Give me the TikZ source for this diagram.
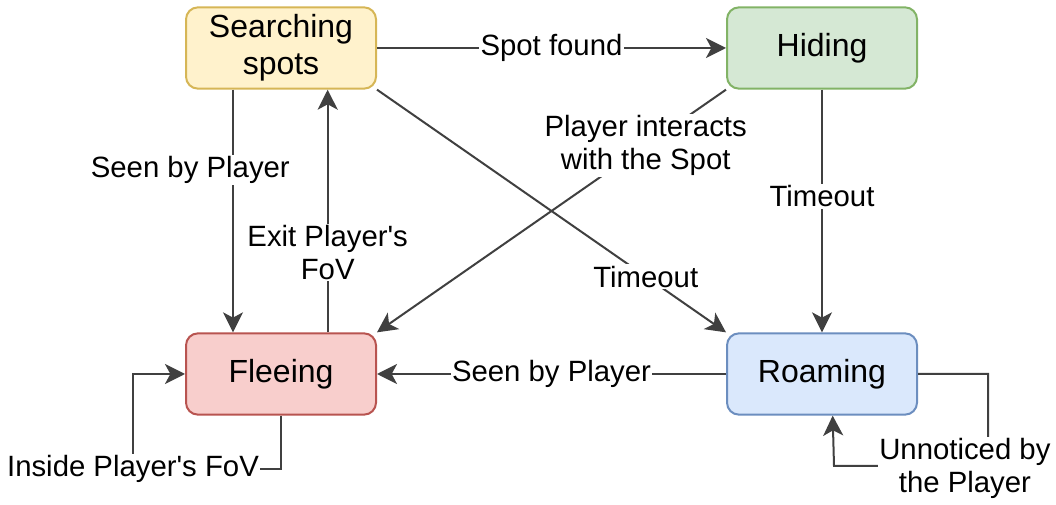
\documentclass[tikz,border=0pt]{standalone}
\usepackage{fontspec}
\setmainfont{Liberation Sans}
\usetikzlibrary{arrows.meta}
\definecolor{edgegray}{HTML}{404040}
\definecolor{srchfill}{HTML}{FFF2CC}
\definecolor{srchline}{HTML}{D6B656}
\definecolor{hidefill}{HTML}{D5E8D4}
\definecolor{hideline}{HTML}{82B366}
\definecolor{fleefill}{HTML}{F8CECC}
\definecolor{fleeline}{HTML}{B85450}
\definecolor{roamfill}{HTML}{DAE8FC}
\definecolor{roamline}{HTML}{6C8EBF}

\begin{document}
\begin{tikzpicture}[x = 0.75pt, y = -0.75pt, line width = 1.5pt,
    state/.style = {rectangle, rounded corners = 9pt, draw, line width = 1.5pt,
        minimum width = 142.5pt, minimum height = 61pt, align = center,
        font = \fontsize{24}{27.75}\selectfont},
    lbl/.style = {fill = white, inner sep = 1pt, align = center,
        font = \fontsize{22}{24.75}\selectfont},
    trans/.style = {draw = edgegray, -{Stealth[length = 15pt, width = 15pt, inset = 4pt]}}]
\useasboundingbox (0,0) rectangle (1056,505);
\draw (281,48) node[state, draw = srchline, fill = srchfill](srch){Searching\\spots}
    (822,48) node[state, draw = hideline, fill = hidefill](hide){Hiding}
    (281,374) node[state, draw = fleeline, fill = fleefill](flee){Fleeing}
    (822,374) node[state, draw = roamline, fill = roamfill](roam){Roaming};
    \draw [trans] (srch) -- (hide) node[lbl, midway] {Spot found};
    \draw [trans] ([xshift = -36pt]srch.south) -- ([xshift = -36pt]flee.north) node[lbl, pos = 0.33, xshift = -32pt] {Seen by Player};
    \draw [trans] ([xshift = 35pt]flee.north) -- ([xshift = 35pt]srch.south) node[lbl, pos = 0.33] {Exit Player\textquotesingle s\\FoV};
    \draw [trans] (srch.south east) -- (roam.north west) node[lbl, pos = 0.77] {Timeout};
    \draw [trans] (hide.south west) -- (flee.north east) node[lbl, pos = 0.23] {Player interacts\\with the Spot};
    \draw [trans] (hide) -- (roam) node[lbl, pos = 0.44] {Timeout};
    \draw [trans] (roam) -- (flee) node[lbl, midway] {Seen by Player};
    \draw [trans] (flee.south) |- ++(-148,53) node[lbl] {Inside Player\textquotesingle s FoV} |- (flee.west);
    \draw [trans] (roam.east) -- ++(70,0) -- ++(0,92) -- node[lbl, pos = 0.15, yshift = -2pt] {Unnoticed by\\the Player} ++(-154,0) -- ([xshift = 8pt]roam.south);
\end{tikzpicture}
\end{document}
